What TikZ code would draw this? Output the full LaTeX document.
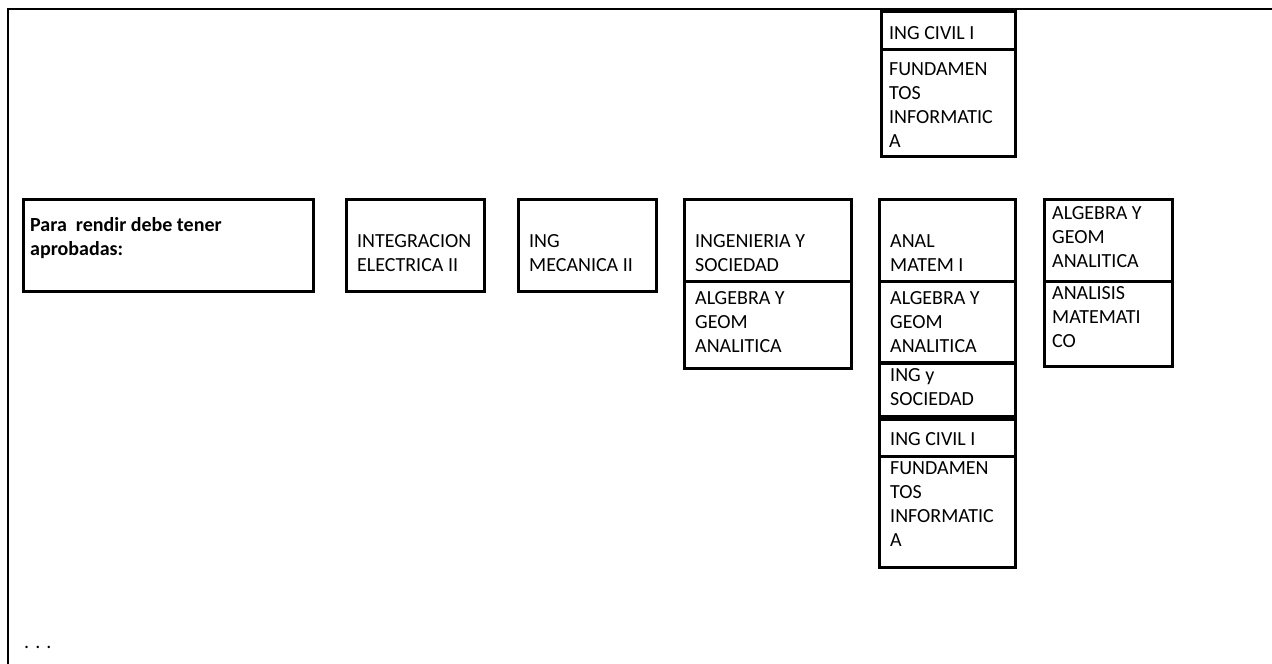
\documentclass[tikz,border=0pt]{standalone}
\usepackage{fontspec}
\setmainfont{Carlito}
\begin{document}
\begin{tikzpicture}[x=1pt,y=-1pt,
  cell/.style={draw, line width=2.6pt, inner sep=0pt, anchor=north west},
  lbl/.style={anchor=north west, inner sep=0pt, align=left, font=\fontsize{20}{24}\selectfont},
]
\useasboundingbox (0,0) rectangle (1272,664);
\coordinate (fb) at (8,664);
\coordinate (fc) at (8,9);
\coordinate (fr) at (1272,9);
\draw[line width=1.8pt] (fb) -- (fc) -- (fr);

% top column
\node[cell, minimum width=134pt, minimum height=38pt] (t1) at (880,10) {};
\node[cell, minimum width=134pt, minimum height=107pt] (t2) at (880,48) {};
\node[lbl] (t1l) at (889,22.7) {\strut ING CIVIL I};
\node[lbl] (t2l) at (889,58.5) {\strut FUNDAMEN\\TOS\\INFORMATIC\\A};

% first row
\node[cell, minimum width=290pt, minimum height=92pt] (para) at (22,198) {};
\node[lbl, font=\fontsize{20}{24}\selectfont\bfseries] (paral) at (30,214.7) {\strut Para\ \ rendir debe tener\\aprobadas:};

\node[cell, minimum width=138pt, minimum height=92pt] (integ) at (345,198) {};
\node[lbl] (integl) at (357,230.7) {\strut INTEGRACION\\ELECTRICA II};

\node[cell, minimum width=138pt, minimum height=92pt] (mec) at (517,198) {};
\node[lbl] (mecl) at (529,230.7) {\strut ING\\MECANICA II};

\node[cell, minimum width=167pt, minimum height=82pt] (ingsoc) at (683,198) {};
\node[cell, minimum width=167pt, minimum height=87pt] (alg1) at (683,280) {};
\node[lbl] (ingsocl) at (695,230.7) {\strut INGENIERIA Y\\SOCIEDAD};
\node[lbl] (alg1l) at (695,287.5) {\strut ALGEBRA Y\\GEOM\\ANALITICA};

\node[cell, minimum width=136pt, minimum height=82pt] (anal) at (878,198) {};
\node[cell, minimum width=136pt, minimum height=82pt] (alg2) at (878,280) {};
\node[cell, minimum width=136pt, minimum height=54pt] (ingy) at (878,361) {};
\node[cell, minimum width=136pt, minimum height=37pt] (civ) at (878,418) {};
\node[cell, minimum width=136pt, minimum height=111pt] (fund) at (878,455) {};
\node[lbl] (anall) at (890,230.7) {\strut ANAL\\MATEM I};
\node[lbl] (alg2l) at (890,287.5) {\strut ALGEBRA Y\\GEOM\\ANALITICA};
\node[lbl] (ingyl) at (890,364) {\strut ING y\\SOCIEDAD};
\node[lbl] (civl) at (890,428.7) {\strut ING CIVIL I};
\node[lbl] (fundl) at (890,457) {\strut FUNDAMEN\\TOS\\INFORMATIC\\A};

\node[cell, minimum width=128pt, minimum height=82pt] (r1) at (1043,198) {};
\node[cell, minimum width=128pt, minimum height=85pt] (r2) at (1043,280) {};
\node[lbl] (r1l) at (1052,202) {\strut ALGEBRA Y\\GEOM\\ANALITICA};
\node[lbl] (r2l) at (1052,282) {\strut ANALISIS\\MATEMATI\\CO};

\node[lbl] (dots) at (24,631) {\strut . . .};
\end{tikzpicture}
\end{document}
